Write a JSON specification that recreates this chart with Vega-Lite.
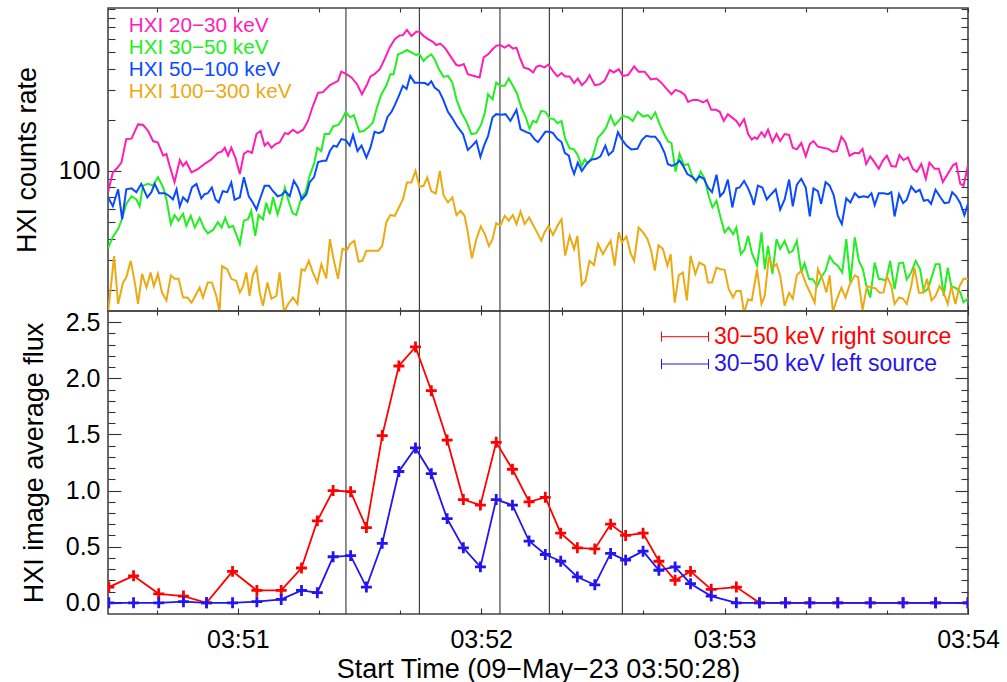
{
  "$schema": "https://vega.github.io/schema/vega-lite/v6.json",
  "padding": {"left": 12, "top": 6, "right": 4, "bottom": 2},
  "config": {
    "font": "Liberation Sans",
    "view": {"stroke": "#444", "strokeWidth": 1.6},
    "axis": {"grid": false, "domain": false, "tickColor": "#333", "tickWidth": 1.1, "labelFont": "Liberation Sans", "labelFontSize": 25, "labelColor": "#000", "labelFlush": false, "labelOverlap": false, "titleFont": "Liberation Sans", "titleFontSize": 27, "titleFontWeight": "normal", "titleColor": "#000"},
    "legend": {"labelFont": "Liberation Sans", "labelLimit": 400, "padding": 0}
  },
  "datasets": {
    "events": [{"seconds": 58.66}, {"seconds": 76.76}, {"seconds": 96.62}, {"seconds": 108.8}, {"seconds": 126.8}],
    "counts": [
      {"seconds":0,"band":"HXI 20−30 keV","rate":75},{"seconds":1.2,"band":"HXI 20−30 keV","rate":98},{"seconds":2.1,"band":"HXI 20−30 keV","rate":103},{"seconds":3.3,"band":"HXI 20−30 keV","rate":112},{"seconds":4.5,"band":"HXI 20−30 keV","rate":154},{"seconds":5.8,"band":"HXI 20−30 keV","rate":155},{"seconds":7.4,"band":"HXI 20−30 keV","rate":188},{"seconds":8.6,"band":"HXI 20−30 keV","rate":187},{"seconds":9.9,"band":"HXI 20−30 keV","rate":172},{"seconds":11.1,"band":"HXI 20−30 keV","rate":150},{"seconds":12.3,"band":"HXI 20−30 keV","rate":147},{"seconds":13.6,"band":"HXI 20−30 keV","rate":123},{"seconds":14.4,"band":"HXI 20−30 keV","rate":126},{"seconds":15.2,"band":"HXI 20−30 keV","rate":107},{"seconds":16.4,"band":"HXI 20−30 keV","rate":86},{"seconds":17.7,"band":"HXI 20−30 keV","rate":116},{"seconds":18.5,"band":"HXI 20−30 keV","rate":107},{"seconds":19.3,"band":"HXI 20−30 keV","rate":113},{"seconds":20.6,"band":"HXI 20−30 keV","rate":98},{"seconds":22.2,"band":"HXI 20−30 keV","rate":103},{"seconds":23.8,"band":"HXI 20−30 keV","rate":110},{"seconds":25.5,"band":"HXI 20−30 keV","rate":117},{"seconds":27.1,"band":"HXI 20−30 keV","rate":128},{"seconds":28,"band":"HXI 20−30 keV","rate":130},{"seconds":28.8,"band":"HXI 20−30 keV","rate":137},{"seconds":29.6,"band":"HXI 20−30 keV","rate":123},{"seconds":30.4,"band":"HXI 20−30 keV","rate":137},{"seconds":31.4,"band":"HXI 20−30 keV","rate":120},{"seconds":32.5,"band":"HXI 20−30 keV","rate":96},{"seconds":33.5,"band":"HXI 20−30 keV","rate":126},{"seconds":34.5,"band":"HXI 20−30 keV","rate":131},{"seconds":35.5,"band":"HXI 20−30 keV","rate":128},{"seconds":36.6,"band":"HXI 20−30 keV","rate":165},{"seconds":37.6,"band":"HXI 20−30 keV","rate":172},{"seconds":38.6,"band":"HXI 20−30 keV","rate":141},{"seconds":39.4,"band":"HXI 20−30 keV","rate":147},{"seconds":40.3,"band":"HXI 20−30 keV","rate":137},{"seconds":41.3,"band":"HXI 20−30 keV","rate":144},{"seconds":42.3,"band":"HXI 20−30 keV","rate":147},{"seconds":43.6,"band":"HXI 20−30 keV","rate":167},{"seconds":44.4,"band":"HXI 20−30 keV","rate":165},{"seconds":45.6,"band":"HXI 20−30 keV","rate":175},{"seconds":46.7,"band":"HXI 20−30 keV","rate":167},{"seconds":48.1,"band":"HXI 20−30 keV","rate":175},{"seconds":49.3,"band":"HXI 20−30 keV","rate":197},{"seconds":50.5,"band":"HXI 20−30 keV","rate":241},{"seconds":51.8,"band":"HXI 20−30 keV","rate":289},{"seconds":53,"band":"HXI 20−30 keV","rate":291},{"seconds":54.7,"band":"HXI 20−30 keV","rate":320},{"seconds":55.9,"band":"HXI 20−30 keV","rate":331},{"seconds":56.7,"band":"HXI 20−30 keV","rate":339},{"seconds":57.5,"band":"HXI 20−30 keV","rate":384},{"seconds":58.8,"band":"HXI 20−30 keV","rate":371},{"seconds":60,"band":"HXI 20−30 keV","rate":355},{"seconds":61.4,"band":"HXI 20−30 keV","rate":324},{"seconds":62.6,"band":"HXI 20−30 keV","rate":283},{"seconds":63.7,"band":"HXI 20−30 keV","rate":317},{"seconds":64.7,"band":"HXI 20−30 keV","rate":360},{"seconds":65.7,"band":"HXI 20−30 keV","rate":371},{"seconds":67,"band":"HXI 20−30 keV","rate":397},{"seconds":68.2,"band":"HXI 20−30 keV","rate":455},{"seconds":69.4,"band":"HXI 20−30 keV","rate":532},{"seconds":70.7,"band":"HXI 20−30 keV","rate":597},{"seconds":71.9,"band":"HXI 20−30 keV","rate":627},{"seconds":72.7,"band":"HXI 20−30 keV","rate":630},{"seconds":73.7,"band":"HXI 20−30 keV","rate":677},{"seconds":74.8,"band":"HXI 20−30 keV","rate":623},{"seconds":76,"band":"HXI 20−30 keV","rate":659},{"seconds":76.8,"band":"HXI 20−30 keV","rate":659},{"seconds":77.8,"band":"HXI 20−30 keV","rate":623},{"seconds":78.9,"band":"HXI 20−30 keV","rate":597},{"seconds":80.1,"band":"HXI 20−30 keV","rate":575},{"seconds":80.9,"band":"HXI 20−30 keV","rate":551},{"seconds":81.9,"band":"HXI 20−30 keV","rate":562},{"seconds":83.2,"band":"HXI 20−30 keV","rate":525},{"seconds":84.6,"band":"HXI 20−30 keV","rate":466},{"seconds":85.9,"band":"HXI 20−30 keV","rate":420},{"seconds":86.7,"band":"HXI 20−30 keV","rate":417},{"seconds":87.7,"band":"HXI 20−30 keV","rate":426},{"seconds":88.7,"band":"HXI 20−30 keV","rate":371},{"seconds":90,"band":"HXI 20−30 keV","rate":363},{"seconds":91.6,"band":"HXI 20−30 keV","rate":355},{"seconds":92.6,"band":"HXI 20−30 keV","rate":466},{"seconds":93.7,"band":"HXI 20−30 keV","rate":486},{"seconds":94.8,"band":"HXI 20−30 keV","rate":520},{"seconds":95.7,"band":"HXI 20−30 keV","rate":545},{"seconds":96.7,"band":"HXI 20−30 keV","rate":551},{"seconds":97.8,"band":"HXI 20−30 keV","rate":532},{"seconds":98.8,"band":"HXI 20−30 keV","rate":551},{"seconds":99.8,"band":"HXI 20−30 keV","rate":525},{"seconds":100.7,"band":"HXI 20−30 keV","rate":532},{"seconds":101.5,"band":"HXI 20−30 keV","rate":466},{"seconds":102.5,"band":"HXI 20−30 keV","rate":407},{"seconds":103.8,"band":"HXI 20−30 keV","rate":397},{"seconds":104.8,"band":"HXI 20−30 keV","rate":380},{"seconds":105.6,"band":"HXI 20−30 keV","rate":410},{"seconds":106.4,"band":"HXI 20−30 keV","rate":417},{"seconds":107.6,"band":"HXI 20−30 keV","rate":407},{"seconds":108.6,"band":"HXI 20−30 keV","rate":423},{"seconds":109.7,"band":"HXI 20−30 keV","rate":387},{"seconds":110.8,"band":"HXI 20−30 keV","rate":360},{"seconds":111.8,"band":"HXI 20−30 keV","rate":377},{"seconds":112.7,"band":"HXI 20−30 keV","rate":360},{"seconds":113.8,"band":"HXI 20−30 keV","rate":360},{"seconds":114.9,"band":"HXI 20−30 keV","rate":329},{"seconds":115.8,"band":"HXI 20−30 keV","rate":350},{"seconds":116.8,"band":"HXI 20−30 keV","rate":320},{"seconds":117.9,"band":"HXI 20−30 keV","rate":339},{"seconds":118.7,"band":"HXI 20−30 keV","rate":367},{"seconds":120,"band":"HXI 20−30 keV","rate":320},{"seconds":121.2,"band":"HXI 20−30 keV","rate":324},{"seconds":122.4,"band":"HXI 20−30 keV","rate":339},{"seconds":123.7,"band":"HXI 20−30 keV","rate":393},{"seconds":124.7,"band":"HXI 20−30 keV","rate":380},{"seconds":125.9,"band":"HXI 20−30 keV","rate":397},{"seconds":126.9,"band":"HXI 20−30 keV","rate":363},{"seconds":128.2,"band":"HXI 20−30 keV","rate":367},{"seconds":129.7,"band":"HXI 20−30 keV","rate":412},{"seconds":130.8,"band":"HXI 20−30 keV","rate":384},{"seconds":132.3,"band":"HXI 20−30 keV","rate":384},{"seconds":133.8,"band":"HXI 20−30 keV","rate":346},{"seconds":135.2,"band":"HXI 20−30 keV","rate":350},{"seconds":136.4,"band":"HXI 20−30 keV","rate":331},{"seconds":137.6,"band":"HXI 20−30 keV","rate":306},{"seconds":138.9,"band":"HXI 20−30 keV","rate":283},{"seconds":139.9,"band":"HXI 20−30 keV","rate":300},{"seconds":141.2,"band":"HXI 20−30 keV","rate":292},{"seconds":142.2,"band":"HXI 20−30 keV","rate":280},{"seconds":143,"band":"HXI 20−30 keV","rate":255},{"seconds":144.2,"band":"HXI 20−30 keV","rate":262},{"seconds":145.4,"band":"HXI 20−30 keV","rate":262},{"seconds":146.7,"band":"HXI 20−30 keV","rate":253},{"seconds":147.7,"band":"HXI 20−30 keV","rate":262},{"seconds":148.7,"band":"HXI 20−30 keV","rate":229},{"seconds":149.9,"band":"HXI 20−30 keV","rate":229},{"seconds":150.8,"band":"HXI 20−30 keV","rate":223},{"seconds":151.8,"band":"HXI 20−30 keV","rate":197},{"seconds":152.8,"band":"HXI 20−30 keV","rate":216},{"seconds":154.1,"band":"HXI 20−30 keV","rate":204},{"seconds":154.9,"band":"HXI 20−30 keV","rate":197},{"seconds":155.7,"band":"HXI 20−30 keV","rate":184},{"seconds":156.8,"band":"HXI 20−30 keV","rate":202},{"seconds":157.8,"band":"HXI 20−30 keV","rate":165},{"seconds":158.7,"band":"HXI 20−30 keV","rate":153},{"seconds":159.4,"band":"HXI 20−30 keV","rate":158},{"seconds":160,"band":"HXI 20−30 keV","rate":154},{"seconds":161.1,"band":"HXI 20−30 keV","rate":169},{"seconds":161.9,"band":"HXI 20−30 keV","rate":159},{"seconds":162.7,"band":"HXI 20−30 keV","rate":175},{"seconds":163.8,"band":"HXI 20−30 keV","rate":148},{"seconds":164.8,"band":"HXI 20−30 keV","rate":165},{"seconds":165.7,"band":"HXI 20−30 keV","rate":150},{"seconds":166.8,"band":"HXI 20−30 keV","rate":165},{"seconds":167.9,"band":"HXI 20−30 keV","rate":163},{"seconds":168.8,"band":"HXI 20−30 keV","rate":137},{"seconds":169.8,"band":"HXI 20−30 keV","rate":134},{"seconds":170.9,"band":"HXI 20−30 keV","rate":146},{"seconds":172,"band":"HXI 20−30 keV","rate":122},{"seconds":173,"band":"HXI 20−30 keV","rate":144},{"seconds":173.9,"band":"HXI 20−30 keV","rate":150},{"seconds":175,"band":"HXI 20−30 keV","rate":139},{"seconds":176.2,"band":"HXI 20−30 keV","rate":137},{"seconds":177.5,"band":"HXI 20−30 keV","rate":135},{"seconds":178.6,"band":"HXI 20−30 keV","rate":130},{"seconds":179.7,"band":"HXI 20−30 keV","rate":131},{"seconds":180.8,"band":"HXI 20−30 keV","rate":159},{"seconds":181.8,"band":"HXI 20−30 keV","rate":147},{"seconds":182.8,"band":"HXI 20−30 keV","rate":123},{"seconds":184.1,"band":"HXI 20−30 keV","rate":128},{"seconds":185.1,"band":"HXI 20−30 keV","rate":127},{"seconds":186,"band":"HXI 20−30 keV","rate":135},{"seconds":186.9,"band":"HXI 20−30 keV","rate":110},{"seconds":187.9,"band":"HXI 20−30 keV","rate":122},{"seconds":189,"band":"HXI 20−30 keV","rate":112},{"seconds":190,"band":"HXI 20−30 keV","rate":103},{"seconds":191,"band":"HXI 20−30 keV","rate":115},{"seconds":192,"band":"HXI 20−30 keV","rate":123},{"seconds":193.1,"band":"HXI 20−30 keV","rate":107},{"seconds":194.2,"band":"HXI 20−30 keV","rate":106},{"seconds":195.1,"band":"HXI 20−30 keV","rate":124},{"seconds":196.1,"band":"HXI 20−30 keV","rate":116},{"seconds":197.2,"band":"HXI 20−30 keV","rate":120},{"seconds":198.4,"band":"HXI 20−30 keV","rate":103},{"seconds":199.4,"band":"HXI 20−30 keV","rate":99},{"seconds":200.5,"band":"HXI 20−30 keV","rate":110},{"seconds":201.6,"band":"HXI 20−30 keV","rate":90},{"seconds":202.5,"band":"HXI 20−30 keV","rate":112},{"seconds":203.8,"band":"HXI 20−30 keV","rate":103},{"seconds":204.8,"band":"HXI 20−30 keV","rate":103},{"seconds":205.8,"band":"HXI 20−30 keV","rate":86},{"seconds":207,"band":"HXI 20−30 keV","rate":96},{"seconds":208.3,"band":"HXI 20−30 keV","rate":108},{"seconds":209.1,"band":"HXI 20−30 keV","rate":111},{"seconds":210.1,"band":"HXI 20−30 keV","rate":84},{"seconds":210.9,"band":"HXI 20−30 keV","rate":82},{"seconds":212,"band":"HXI 20−30 keV","rate":108},
      {"seconds":0,"band":"HXI 30−50 keV","rate":35},{"seconds":1.2,"band":"HXI 30−50 keV","rate":41},{"seconds":2.5,"band":"HXI 30−50 keV","rate":45.5},{"seconds":3.3,"band":"HXI 30−50 keV","rate":51},{"seconds":4.5,"band":"HXI 30−50 keV","rate":64},{"seconds":5.8,"band":"HXI 30−50 keV","rate":71},{"seconds":7,"band":"HXI 30−50 keV","rate":68},{"seconds":7.8,"band":"HXI 30−50 keV","rate":62},{"seconds":8.6,"band":"HXI 30−50 keV","rate":82},{"seconds":9.9,"band":"HXI 30−50 keV","rate":84},{"seconds":11.1,"band":"HXI 30−50 keV","rate":82},{"seconds":12.3,"band":"HXI 30−50 keV","rate":92},{"seconds":13.6,"band":"HXI 30−50 keV","rate":80},{"seconds":14.4,"band":"HXI 30−50 keV","rate":68},{"seconds":15.5,"band":"HXI 30−50 keV","rate":48.7},{"seconds":16.4,"band":"HXI 30−50 keV","rate":55},{"seconds":17.4,"band":"HXI 30−50 keV","rate":51},{"seconds":18.5,"band":"HXI 30−50 keV","rate":56},{"seconds":19.3,"band":"HXI 30−50 keV","rate":47.6},{"seconds":20.4,"band":"HXI 30−50 keV","rate":54.5},{"seconds":21.4,"band":"HXI 30−50 keV","rate":46.5},{"seconds":22.6,"band":"HXI 30−50 keV","rate":53},{"seconds":23.7,"band":"HXI 30−50 keV","rate":46},{"seconds":24.6,"band":"HXI 30−50 keV","rate":42.9},{"seconds":25.9,"band":"HXI 30−50 keV","rate":45},{"seconds":27.1,"band":"HXI 30−50 keV","rate":50},{"seconds":28,"band":"HXI 30−50 keV","rate":46.5},{"seconds":28.9,"band":"HXI 30−50 keV","rate":53},{"seconds":29.8,"band":"HXI 30−50 keV","rate":46.5},{"seconds":30.8,"band":"HXI 30−50 keV","rate":47.6},{"seconds":31.6,"band":"HXI 30−50 keV","rate":42.5},{"seconds":32.5,"band":"HXI 30−50 keV","rate":37.2},{"seconds":33.5,"band":"HXI 30−50 keV","rate":51},{"seconds":34.5,"band":"HXI 30−50 keV","rate":52},{"seconds":35.3,"band":"HXI 30−50 keV","rate":58.3},{"seconds":36.3,"band":"HXI 30−50 keV","rate":41.5},{"seconds":37.1,"band":"HXI 30−50 keV","rate":55},{"seconds":38.2,"band":"HXI 30−50 keV","rate":52},{"seconds":39,"band":"HXI 30−50 keV","rate":65},{"seconds":39.9,"band":"HXI 30−50 keV","rate":55.6},{"seconds":40.7,"band":"HXI 30−50 keV","rate":70},{"seconds":41.8,"band":"HXI 30−50 keV","rate":55.6},{"seconds":42.6,"band":"HXI 30−50 keV","rate":64},{"seconds":43.6,"band":"HXI 30−50 keV","rate":80},{"seconds":44.4,"band":"HXI 30−50 keV","rate":68},{"seconds":45.5,"band":"HXI 30−50 keV","rate":56.5},{"seconds":46.4,"band":"HXI 30−50 keV","rate":55},{"seconds":47.7,"band":"HXI 30−50 keV","rate":70},{"seconds":48.7,"band":"HXI 30−50 keV","rate":75},{"seconds":49.7,"band":"HXI 30−50 keV","rate":94},{"seconds":50.8,"band":"HXI 30−50 keV","rate":110},{"seconds":51.6,"band":"HXI 30−50 keV","rate":137},{"seconds":52.6,"band":"HXI 30−50 keV","rate":131},{"seconds":53.4,"band":"HXI 30−50 keV","rate":165},{"seconds":54.5,"band":"HXI 30−50 keV","rate":165},{"seconds":55.6,"band":"HXI 30−50 keV","rate":184},{"seconds":56.7,"band":"HXI 30−50 keV","rate":186},{"seconds":57.5,"band":"HXI 30−50 keV","rate":197},{"seconds":58.6,"band":"HXI 30−50 keV","rate":223},{"seconds":59.7,"band":"HXI 30−50 keV","rate":207},{"seconds":60.6,"band":"HXI 30−50 keV","rate":213},{"seconds":62,"band":"HXI 30−50 keV","rate":170},{"seconds":63,"band":"HXI 30−50 keV","rate":172},{"seconds":64.1,"band":"HXI 30−50 keV","rate":180},{"seconds":65.3,"band":"HXI 30−50 keV","rate":193},{"seconds":66.3,"band":"HXI 30−50 keV","rate":236},{"seconds":67.4,"band":"HXI 30−50 keV","rate":283},{"seconds":68.6,"band":"HXI 30−50 keV","rate":317},{"seconds":69.6,"band":"HXI 30−50 keV","rate":371},{"seconds":70.4,"band":"HXI 30−50 keV","rate":371},{"seconds":71.5,"band":"HXI 30−50 keV","rate":486},{"seconds":72.6,"band":"HXI 30−50 keV","rate":497},{"seconds":73.7,"band":"HXI 30−50 keV","rate":515},{"seconds":74.9,"band":"HXI 30−50 keV","rate":497},{"seconds":76,"band":"HXI 30−50 keV","rate":480},{"seconds":76.7,"band":"HXI 30−50 keV","rate":491},{"seconds":77.8,"band":"HXI 30−50 keV","rate":443},{"seconds":78.6,"band":"HXI 30−50 keV","rate":466},{"seconds":79.7,"band":"HXI 30−50 keV","rate":486},{"seconds":80.5,"band":"HXI 30−50 keV","rate":455},{"seconds":81.6,"band":"HXI 30−50 keV","rate":397},{"seconds":82.7,"band":"HXI 30−50 keV","rate":358},{"seconds":83.8,"band":"HXI 30−50 keV","rate":363},{"seconds":84.9,"band":"HXI 30−50 keV","rate":331},{"seconds":85.9,"band":"HXI 30−50 keV","rate":264},{"seconds":87.1,"band":"HXI 30−50 keV","rate":221},{"seconds":88.3,"band":"HXI 30−50 keV","rate":197},{"seconds":89.6,"band":"HXI 30−50 keV","rate":165},{"seconds":90.8,"band":"HXI 30−50 keV","rate":167},{"seconds":92,"band":"HXI 30−50 keV","rate":188},{"seconds":92.9,"band":"HXI 30−50 keV","rate":221},{"seconds":93.7,"band":"HXI 30−50 keV","rate":283},{"seconds":94.8,"band":"HXI 30−50 keV","rate":264},{"seconds":95.7,"band":"HXI 30−50 keV","rate":331},{"seconds":96.7,"band":"HXI 30−50 keV","rate":317},{"seconds":97.8,"band":"HXI 30−50 keV","rate":317},{"seconds":98.8,"band":"HXI 30−50 keV","rate":350},{"seconds":99.8,"band":"HXI 30−50 keV","rate":317},{"seconds":100.8,"band":"HXI 30−50 keV","rate":287},{"seconds":101.9,"band":"HXI 30−50 keV","rate":236},{"seconds":103,"band":"HXI 30−50 keV","rate":207},{"seconds":103.9,"band":"HXI 30−50 keV","rate":177},{"seconds":104.8,"band":"HXI 30−50 keV","rate":197},{"seconds":105.6,"band":"HXI 30−50 keV","rate":193},{"seconds":106.8,"band":"HXI 30−50 keV","rate":226},{"seconds":107.8,"band":"HXI 30−50 keV","rate":223},{"seconds":108.9,"band":"HXI 30−50 keV","rate":204},{"seconds":109.9,"band":"HXI 30−50 keV","rate":202},{"seconds":110.8,"band":"HXI 30−50 keV","rate":191},{"seconds":111.8,"band":"HXI 30−50 keV","rate":197},{"seconds":112.7,"band":"HXI 30−50 keV","rate":155},{"seconds":113.8,"band":"HXI 30−50 keV","rate":136},{"seconds":114.9,"band":"HXI 30−50 keV","rate":134},{"seconds":115.8,"band":"HXI 30−50 keV","rate":124},{"seconds":116.8,"band":"HXI 30−50 keV","rate":107},{"seconds":117.5,"band":"HXI 30−50 keV","rate":117},{"seconds":118.3,"band":"HXI 30−50 keV","rate":111},{"seconds":119.5,"band":"HXI 30−50 keV","rate":122},{"seconds":120.8,"band":"HXI 30−50 keV","rate":157},{"seconds":122,"band":"HXI 30−50 keV","rate":169},{"seconds":122.8,"band":"HXI 30−50 keV","rate":180},{"seconds":123.9,"band":"HXI 30−50 keV","rate":211},{"seconds":124.9,"band":"HXI 30−50 keV","rate":186},{"seconds":125.9,"band":"HXI 30−50 keV","rate":197},{"seconds":126.9,"band":"HXI 30−50 keV","rate":211},{"seconds":128.2,"band":"HXI 30−50 keV","rate":207},{"seconds":129.4,"band":"HXI 30−50 keV","rate":197},{"seconds":130.6,"band":"HXI 30−50 keV","rate":223},{"seconds":131.9,"band":"HXI 30−50 keV","rate":209},{"seconds":133.1,"band":"HXI 30−50 keV","rate":213},{"seconds":133.9,"band":"HXI 30−50 keV","rate":202},{"seconds":134.9,"band":"HXI 30−50 keV","rate":221},{"seconds":136,"band":"HXI 30−50 keV","rate":188},{"seconds":137.1,"band":"HXI 30−50 keV","rate":165},{"seconds":138,"band":"HXI 30−50 keV","rate":150},{"seconds":138.9,"band":"HXI 30−50 keV","rate":146},{"seconds":139.9,"band":"HXI 30−50 keV","rate":99},{"seconds":140.9,"band":"HXI 30−50 keV","rate":126},{"seconds":142,"band":"HXI 30−50 keV","rate":108},{"seconds":143,"band":"HXI 30−50 keV","rate":110},{"seconds":144,"band":"HXI 30−50 keV","rate":94},{"seconds":145,"band":"HXI 30−50 keV","rate":86},{"seconds":146.1,"band":"HXI 30−50 keV","rate":99},{"seconds":147.1,"band":"HXI 30−50 keV","rate":90},{"seconds":148.1,"band":"HXI 30−50 keV","rate":71},{"seconds":149,"band":"HXI 30−50 keV","rate":61},{"seconds":150,"band":"HXI 30−50 keV","rate":66.8},{"seconds":151,"band":"HXI 30−50 keV","rate":53.3},{"seconds":152,"band":"HXI 30−50 keV","rate":43.5},{"seconds":153,"band":"HXI 30−50 keV","rate":46.5},{"seconds":154.1,"band":"HXI 30−50 keV","rate":42.5},{"seconds":154.9,"band":"HXI 30−50 keV","rate":46.5},{"seconds":156,"band":"HXI 30−50 keV","rate":32.4},{"seconds":156.9,"band":"HXI 30−50 keV","rate":34.4},{"seconds":157.8,"band":"HXI 30−50 keV","rate":41.5},{"seconds":158.7,"band":"HXI 30−50 keV","rate":33},{"seconds":160,"band":"HXI 30−50 keV","rate":27.7},{"seconds":161.1,"band":"HXI 30−50 keV","rate":43.5},{"seconds":161.9,"band":"HXI 30−50 keV","rate":26.4},{"seconds":162.7,"band":"HXI 30−50 keV","rate":36.2},{"seconds":163.8,"band":"HXI 30−50 keV","rate":24.8},{"seconds":164.8,"band":"HXI 30−50 keV","rate":39.7},{"seconds":165.7,"band":"HXI 30−50 keV","rate":34.7},{"seconds":166.8,"band":"HXI 30−50 keV","rate":38.8},{"seconds":167.9,"band":"HXI 30−50 keV","rate":33},{"seconds":168.8,"band":"HXI 30−50 keV","rate":33.9},{"seconds":169.8,"band":"HXI 30−50 keV","rate":38.8},{"seconds":170.9,"band":"HXI 30−50 keV","rate":25.3},{"seconds":171.7,"band":"HXI 30−50 keV","rate":28.6},{"seconds":172.8,"band":"HXI 30−50 keV","rate":23.2},{"seconds":173.8,"band":"HXI 30−50 keV","rate":23},{"seconds":174.8,"band":"HXI 30−50 keV","rate":21},{"seconds":175.8,"band":"HXI 30−50 keV","rate":23.7},{"seconds":176.9,"band":"HXI 30−50 keV","rate":25.9},{"seconds":177.9,"band":"HXI 30−50 keV","rate":31.4},{"seconds":178.9,"band":"HXI 30−50 keV","rate":28.9},{"seconds":179.9,"band":"HXI 30−50 keV","rate":27.7},{"seconds":181,"band":"HXI 30−50 keV","rate":25.3},{"seconds":182,"band":"HXI 30−50 keV","rate":39.7},{"seconds":183,"band":"HXI 30−50 keV","rate":22.1},{"seconds":184.1,"band":"HXI 30−50 keV","rate":40.7},{"seconds":185.1,"band":"HXI 30−50 keV","rate":29.6},{"seconds":186.1,"band":"HXI 30−50 keV","rate":26.4},{"seconds":186.9,"band":"HXI 30−50 keV","rate":21.3},{"seconds":187.9,"band":"HXI 30−50 keV","rate":18},{"seconds":189,"band":"HXI 30−50 keV","rate":28.9},{"seconds":190,"band":"HXI 30−50 keV","rate":23.2},{"seconds":191,"band":"HXI 30−50 keV","rate":23},{"seconds":191.8,"band":"HXI 30−50 keV","rate":22.6},{"seconds":192.8,"band":"HXI 30−50 keV","rate":29.6},{"seconds":193.9,"band":"HXI 30−50 keV","rate":20.2},{"seconds":195,"band":"HXI 30−50 keV","rate":28.6},{"seconds":196,"band":"HXI 30−50 keV","rate":28.9},{"seconds":196.9,"band":"HXI 30−50 keV","rate":23},{"seconds":198,"band":"HXI 30−50 keV","rate":25.3},{"seconds":199.1,"band":"HXI 30−50 keV","rate":29.6},{"seconds":200.2,"band":"HXI 30−50 keV","rate":26.4},{"seconds":201.1,"band":"HXI 30−50 keV","rate":19.4},{"seconds":202.1,"band":"HXI 30−50 keV","rate":20.2},{"seconds":203.2,"band":"HXI 30−50 keV","rate":24.4},{"seconds":204,"band":"HXI 30−50 keV","rate":28.3},{"seconds":205,"band":"HXI 30−50 keV","rate":28.3},{"seconds":206,"band":"HXI 30−50 keV","rate":18.4},{"seconds":207,"band":"HXI 30−50 keV","rate":27},{"seconds":207.9,"band":"HXI 30−50 keV","rate":21},{"seconds":209.1,"band":"HXI 30−50 keV","rate":20.4},{"seconds":210.1,"band":"HXI 30−50 keV","rate":19.3},{"seconds":210.9,"band":"HXI 30−50 keV","rate":16.9},{"seconds":212,"band":"HXI 30−50 keV","rate":17.8},
      {"seconds":0,"band":"HXI 50−100 keV","rate":70},{"seconds":1.2,"band":"HXI 50−100 keV","rate":62},{"seconds":2.5,"band":"HXI 50−100 keV","rate":78},{"seconds":3.5,"band":"HXI 50−100 keV","rate":52},{"seconds":4.5,"band":"HXI 50−100 keV","rate":78},{"seconds":5.8,"band":"HXI 50−100 keV","rate":79},{"seconds":7,"band":"HXI 50−100 keV","rate":75},{"seconds":8.2,"band":"HXI 50−100 keV","rate":84},{"seconds":9.7,"band":"HXI 50−100 keV","rate":70},{"seconds":10.7,"band":"HXI 50−100 keV","rate":75},{"seconds":11.5,"band":"HXI 50−100 keV","rate":84},{"seconds":12.6,"band":"HXI 50−100 keV","rate":74},{"seconds":14,"band":"HXI 50−100 keV","rate":74},{"seconds":15.2,"band":"HXI 50−100 keV","rate":71},{"seconds":16,"band":"HXI 50−100 keV","rate":68},{"seconds":16.9,"band":"HXI 50−100 keV","rate":78},{"seconds":17.7,"band":"HXI 50−100 keV","rate":61.8},{"seconds":18.5,"band":"HXI 50−100 keV","rate":70},{"seconds":19.6,"band":"HXI 50−100 keV","rate":65.9},{"seconds":20.7,"band":"HXI 50−100 keV","rate":80},{"seconds":21.8,"band":"HXI 50−100 keV","rate":84},{"seconds":23,"band":"HXI 50−100 keV","rate":69},{"seconds":23.8,"band":"HXI 50−100 keV","rate":73},{"seconds":24.6,"band":"HXI 50−100 keV","rate":74},{"seconds":25.6,"band":"HXI 50−100 keV","rate":80},{"seconds":26.5,"band":"HXI 50−100 keV","rate":68},{"seconds":27.3,"band":"HXI 50−100 keV","rate":65.3},{"seconds":28.3,"band":"HXI 50−100 keV","rate":76},{"seconds":29.4,"band":"HXI 50−100 keV","rate":75},{"seconds":30.4,"band":"HXI 50−100 keV","rate":85.6},{"seconds":31.2,"band":"HXI 50−100 keV","rate":67.7},{"seconds":32.5,"band":"HXI 50−100 keV","rate":70},{"seconds":33.5,"band":"HXI 50−100 keV","rate":92},{"seconds":34.7,"band":"HXI 50−100 keV","rate":71},{"seconds":35.7,"band":"HXI 50−100 keV","rate":65.3},{"seconds":36.6,"band":"HXI 50−100 keV","rate":59.3},{"seconds":37.6,"band":"HXI 50−100 keV","rate":70},{"seconds":38.6,"band":"HXI 50−100 keV","rate":81.8},{"seconds":39.7,"band":"HXI 50−100 keV","rate":81.8},{"seconds":40.7,"band":"HXI 50−100 keV","rate":76},{"seconds":41.8,"band":"HXI 50−100 keV","rate":71},{"seconds":42.7,"band":"HXI 50−100 keV","rate":72},{"seconds":43.7,"band":"HXI 50−100 keV","rate":76},{"seconds":44.8,"band":"HXI 50−100 keV","rate":71},{"seconds":45.8,"band":"HXI 50−100 keV","rate":87.5},{"seconds":46.8,"band":"HXI 50−100 keV","rate":80},{"seconds":47.8,"band":"HXI 50−100 keV","rate":68},{"seconds":48.9,"band":"HXI 50−100 keV","rate":73},{"seconds":49.7,"band":"HXI 50−100 keV","rate":85.6},{"seconds":50.8,"band":"HXI 50−100 keV","rate":92},{"seconds":51.8,"band":"HXI 50−100 keV","rate":113},{"seconds":53,"band":"HXI 50−100 keV","rate":115},{"seconds":53.8,"band":"HXI 50−100 keV","rate":115},{"seconds":54.7,"band":"HXI 50−100 keV","rate":131},{"seconds":55.6,"band":"HXI 50−100 keV","rate":141},{"seconds":56.4,"band":"HXI 50−100 keV","rate":139},{"seconds":57.5,"band":"HXI 50−100 keV","rate":154},{"seconds":58.6,"band":"HXI 50−100 keV","rate":152},{"seconds":59.6,"band":"HXI 50−100 keV","rate":141},{"seconds":60.4,"band":"HXI 50−100 keV","rate":163},{"seconds":61.5,"band":"HXI 50−100 keV","rate":131},{"seconds":62.5,"band":"HXI 50−100 keV","rate":141},{"seconds":63.7,"band":"HXI 50−100 keV","rate":120},{"seconds":64.7,"band":"HXI 50−100 keV","rate":137},{"seconds":65.7,"band":"HXI 50−100 keV","rate":170},{"seconds":66.8,"band":"HXI 50−100 keV","rate":167},{"seconds":67.8,"band":"HXI 50−100 keV","rate":172},{"seconds":68.9,"band":"HXI 50−100 keV","rate":208},{"seconds":69.9,"band":"HXI 50−100 keV","rate":223},{"seconds":70.7,"band":"HXI 50−100 keV","rate":244},{"seconds":71.7,"band":"HXI 50−100 keV","rate":277},{"seconds":72.7,"band":"HXI 50−100 keV","rate":317},{"seconds":73.6,"band":"HXI 50−100 keV","rate":304},{"seconds":74.5,"band":"HXI 50−100 keV","rate":363},{"seconds":75.6,"band":"HXI 50−100 keV","rate":331},{"seconds":76.8,"band":"HXI 50−100 keV","rate":331},{"seconds":78.1,"band":"HXI 50−100 keV","rate":329},{"seconds":78.9,"band":"HXI 50−100 keV","rate":321},{"seconds":79.7,"band":"HXI 50−100 keV","rate":337},{"seconds":80.5,"band":"HXI 50−100 keV","rate":310},{"seconds":81.6,"band":"HXI 50−100 keV","rate":296},{"seconds":82.6,"band":"HXI 50−100 keV","rate":264},{"seconds":83.8,"band":"HXI 50−100 keV","rate":223},{"seconds":84.9,"band":"HXI 50−100 keV","rate":204},{"seconds":86,"band":"HXI 50−100 keV","rate":184},{"seconds":87.5,"band":"HXI 50−100 keV","rate":165},{"seconds":88.7,"band":"HXI 50−100 keV","rate":133},{"seconds":89.8,"band":"HXI 50−100 keV","rate":141},{"seconds":90.8,"band":"HXI 50−100 keV","rate":150},{"seconds":91.8,"band":"HXI 50−100 keV","rate":121},{"seconds":92.7,"band":"HXI 50−100 keV","rate":141},{"seconds":93.7,"band":"HXI 50−100 keV","rate":161},{"seconds":94.8,"band":"HXI 50−100 keV","rate":207},{"seconds":95.7,"band":"HXI 50−100 keV","rate":216},{"seconds":97,"band":"HXI 50−100 keV","rate":214},{"seconds":98,"band":"HXI 50−100 keV","rate":216},{"seconds":99.2,"band":"HXI 50−100 keV","rate":197},{"seconds":100.7,"band":"HXI 50−100 keV","rate":229},{"seconds":101.7,"band":"HXI 50−100 keV","rate":176},{"seconds":103,"band":"HXI 50−100 keV","rate":170},{"seconds":104.1,"band":"HXI 50−100 keV","rate":166},{"seconds":105.2,"band":"HXI 50−100 keV","rate":153},{"seconds":106,"band":"HXI 50−100 keV","rate":148},{"seconds":106.8,"band":"HXI 50−100 keV","rate":157},{"seconds":107.8,"band":"HXI 50−100 keV","rate":170},{"seconds":108.9,"band":"HXI 50−100 keV","rate":170},{"seconds":109.7,"band":"HXI 50−100 keV","rate":167},{"seconds":110.8,"band":"HXI 50−100 keV","rate":154},{"seconds":111.8,"band":"HXI 50−100 keV","rate":148},{"seconds":112.6,"band":"HXI 50−100 keV","rate":128},{"seconds":113.6,"band":"HXI 50−100 keV","rate":123},{"seconds":114.2,"band":"HXI 50−100 keV","rate":107},{"seconds":114.9,"band":"HXI 50−100 keV","rate":96},{"seconds":115.8,"band":"HXI 50−100 keV","rate":112},{"seconds":116.8,"band":"HXI 50−100 keV","rate":100},{"seconds":118.2,"band":"HXI 50−100 keV","rate":112},{"seconds":119.3,"band":"HXI 50−100 keV","rate":117},{"seconds":120.4,"band":"HXI 50−100 keV","rate":118},{"seconds":121.4,"band":"HXI 50−100 keV","rate":122},{"seconds":122.6,"band":"HXI 50−100 keV","rate":141},{"seconds":123.4,"band":"HXI 50−100 keV","rate":124},{"seconds":124.5,"band":"HXI 50−100 keV","rate":131},{"seconds":125.7,"band":"HXI 50−100 keV","rate":169},{"seconds":126.7,"band":"HXI 50−100 keV","rate":153},{"seconds":127.8,"band":"HXI 50−100 keV","rate":141},{"seconds":129,"band":"HXI 50−100 keV","rate":134},{"seconds":130.5,"band":"HXI 50−100 keV","rate":135},{"seconds":131.6,"band":"HXI 50−100 keV","rate":152},{"seconds":132.7,"band":"HXI 50−100 keV","rate":161},{"seconds":133.8,"band":"HXI 50−100 keV","rate":159},{"seconds":134.9,"band":"HXI 50−100 keV","rate":159},{"seconds":136,"band":"HXI 50−100 keV","rate":147},{"seconds":137.2,"band":"HXI 50−100 keV","rate":128},{"seconds":138,"band":"HXI 50−100 keV","rate":110},{"seconds":139,"band":"HXI 50−100 keV","rate":107},{"seconds":140.1,"band":"HXI 50−100 keV","rate":110},{"seconds":140.9,"band":"HXI 50−100 keV","rate":115},{"seconds":141.7,"band":"HXI 50−100 keV","rate":108},{"seconds":142.8,"band":"HXI 50−100 keV","rate":96},{"seconds":143.8,"band":"HXI 50−100 keV","rate":93},{"seconds":144.9,"band":"HXI 50−100 keV","rate":88},{"seconds":145.8,"band":"HXI 50−100 keV","rate":93},{"seconds":146.9,"band":"HXI 50−100 keV","rate":90},{"seconds":147.9,"band":"HXI 50−100 keV","rate":80},{"seconds":148.9,"band":"HXI 50−100 keV","rate":75},{"seconds":150,"band":"HXI 50−100 keV","rate":95},{"seconds":150.9,"band":"HXI 50−100 keV","rate":71},{"seconds":151.8,"band":"HXI 50−100 keV","rate":75},{"seconds":152.8,"band":"HXI 50−100 keV","rate":89},{"seconds":153.9,"band":"HXI 50−100 keV","rate":61},{"seconds":154.9,"band":"HXI 50−100 keV","rate":79},{"seconds":155.7,"band":"HXI 50−100 keV","rate":80},{"seconds":156.8,"band":"HXI 50−100 keV","rate":87.5},{"seconds":157.8,"band":"HXI 50−100 keV","rate":79},{"seconds":158.7,"band":"HXI 50−100 keV","rate":70},{"seconds":159.2,"band":"HXI 50−100 keV","rate":63},{"seconds":160.2,"band":"HXI 50−100 keV","rate":82},{"seconds":161.3,"band":"HXI 50−100 keV","rate":80},{"seconds":162.4,"band":"HXI 50−100 keV","rate":68},{"seconds":163.5,"band":"HXI 50−100 keV","rate":73},{"seconds":164.6,"band":"HXI 50−100 keV","rate":78},{"seconds":165.7,"band":"HXI 50−100 keV","rate":59.3},{"seconds":166.8,"band":"HXI 50−100 keV","rate":68},{"seconds":167.9,"band":"HXI 50−100 keV","rate":89},{"seconds":168.8,"band":"HXI 50−100 keV","rate":62},{"seconds":169.8,"band":"HXI 50−100 keV","rate":83},{"seconds":170.9,"band":"HXI 50−100 keV","rate":90},{"seconds":172,"band":"HXI 50−100 keV","rate":80},{"seconds":173,"band":"HXI 50−100 keV","rate":54},{"seconds":173.9,"band":"HXI 50−100 keV","rate":79},{"seconds":175,"band":"HXI 50−100 keV","rate":76},{"seconds":175.8,"band":"HXI 50−100 keV","rate":64},{"seconds":176.9,"band":"HXI 50−100 keV","rate":86},{"seconds":177.9,"band":"HXI 50−100 keV","rate":82},{"seconds":178.9,"band":"HXI 50−100 keV","rate":72},{"seconds":179.9,"band":"HXI 50−100 keV","rate":54.5},{"seconds":180.9,"band":"HXI 50−100 keV","rate":48.7},{"seconds":182,"band":"HXI 50−100 keV","rate":69},{"seconds":183,"band":"HXI 50−100 keV","rate":65.3},{"seconds":184.1,"band":"HXI 50−100 keV","rate":74},{"seconds":185.1,"band":"HXI 50−100 keV","rate":70},{"seconds":186.3,"band":"HXI 50−100 keV","rate":71},{"seconds":187.3,"band":"HXI 50−100 keV","rate":70},{"seconds":188.2,"band":"HXI 50−100 keV","rate":74},{"seconds":189,"band":"HXI 50−100 keV","rate":63},{"seconds":190,"band":"HXI 50−100 keV","rate":74},{"seconds":191.2,"band":"HXI 50−100 keV","rate":74},{"seconds":192.3,"band":"HXI 50−100 keV","rate":73},{"seconds":193.1,"band":"HXI 50−100 keV","rate":75},{"seconds":193.9,"band":"HXI 50−100 keV","rate":54},{"seconds":195,"band":"HXI 50−100 keV","rate":73},{"seconds":196,"band":"HXI 50−100 keV","rate":64.7},{"seconds":196.9,"band":"HXI 50−100 keV","rate":67.7},{"seconds":198,"band":"HXI 50−100 keV","rate":81},{"seconds":199.1,"band":"HXI 50−100 keV","rate":75},{"seconds":200.1,"band":"HXI 50−100 keV","rate":77.5},{"seconds":201.1,"band":"HXI 50−100 keV","rate":66.8},{"seconds":202.1,"band":"HXI 50−100 keV","rate":67.7},{"seconds":202.9,"band":"HXI 50−100 keV","rate":64},{"seconds":204,"band":"HXI 50−100 keV","rate":77.5},{"seconds":205.2,"band":"HXI 50−100 keV","rate":70},{"seconds":206.2,"band":"HXI 50−100 keV","rate":64.7},{"seconds":207.3,"band":"HXI 50−100 keV","rate":65.3},{"seconds":208.1,"band":"HXI 50−100 keV","rate":75},{"seconds":209.1,"band":"HXI 50−100 keV","rate":71},{"seconds":210.1,"band":"HXI 50−100 keV","rate":64.7},{"seconds":211.1,"band":"HXI 50−100 keV","rate":55},{"seconds":212,"band":"HXI 50−100 keV","rate":64},
      {"seconds":0,"band":"HXI 100−300 keV","rate":14.5},{"seconds":1.5,"band":"HXI 100−300 keV","rate":31.6},{"seconds":2.5,"band":"HXI 100−300 keV","rate":16.5},{"seconds":3.7,"band":"HXI 100−300 keV","rate":22.1},{"seconds":4.5,"band":"HXI 100−300 keV","rate":23.6},{"seconds":5.6,"band":"HXI 100−300 keV","rate":29.6},{"seconds":6.6,"band":"HXI 100−300 keV","rate":22.1},{"seconds":7.4,"band":"HXI 100−300 keV","rate":16.5},{"seconds":8.4,"band":"HXI 100−300 keV","rate":24.8},{"seconds":9.5,"band":"HXI 100−300 keV","rate":20.6},{"seconds":10.5,"band":"HXI 100−300 keV","rate":25.3},{"seconds":11.3,"band":"HXI 100−300 keV","rate":21},{"seconds":12.3,"band":"HXI 100−300 keV","rate":24.8},{"seconds":13.3,"band":"HXI 100−300 keV","rate":19.3},{"seconds":14.4,"band":"HXI 100−300 keV","rate":17.3},{"seconds":15.5,"band":"HXI 100−300 keV","rate":24.3},{"seconds":16.4,"band":"HXI 100−300 keV","rate":23.2},{"seconds":17.4,"band":"HXI 100−300 keV","rate":23.2},{"seconds":18.5,"band":"HXI 100−300 keV","rate":18},{"seconds":19.6,"band":"HXI 100−300 keV","rate":18},{"seconds":20.6,"band":"HXI 100−300 keV","rate":16.8},{"seconds":21.5,"band":"HXI 100−300 keV","rate":18.4},{"seconds":22.6,"band":"HXI 100−300 keV","rate":20.6},{"seconds":23.4,"band":"HXI 100−300 keV","rate":18},{"seconds":24.6,"band":"HXI 100−300 keV","rate":22.1},{"seconds":25.6,"band":"HXI 100−300 keV","rate":22.1},{"seconds":26.7,"band":"HXI 100−300 keV","rate":18.4},{"seconds":27.5,"band":"HXI 100−300 keV","rate":14.8},{"seconds":28.1,"band":"HXI 100−300 keV","rate":27.5},{"seconds":29.4,"band":"HXI 100−300 keV","rate":26.4},{"seconds":30.4,"band":"HXI 100−300 keV","rate":23.2},{"seconds":31.6,"band":"HXI 100−300 keV","rate":22.6},{"seconds":32.5,"band":"HXI 100−300 keV","rate":19.3},{"seconds":33.3,"band":"HXI 100−300 keV","rate":21},{"seconds":34.1,"band":"HXI 100−300 keV","rate":25.3},{"seconds":34.9,"band":"HXI 100−300 keV","rate":18.4},{"seconds":35.7,"band":"HXI 100−300 keV","rate":24.3},{"seconds":36.6,"band":"HXI 100−300 keV","rate":27},{"seconds":37.4,"band":"HXI 100−300 keV","rate":19.3},{"seconds":38.2,"band":"HXI 100−300 keV","rate":16.1},{"seconds":39.3,"band":"HXI 100−300 keV","rate":22.1},{"seconds":40.3,"band":"HXI 100−300 keV","rate":17.7},{"seconds":41.5,"band":"HXI 100−300 keV","rate":18.4},{"seconds":42.3,"band":"HXI 100−300 keV","rate":25.3},{"seconds":43.4,"band":"HXI 100−300 keV","rate":14.8},{"seconds":44.4,"band":"HXI 100−300 keV","rate":16.5},{"seconds":45.6,"band":"HXI 100−300 keV","rate":18},{"seconds":46.7,"band":"HXI 100−300 keV","rate":16.5},{"seconds":47.7,"band":"HXI 100−300 keV","rate":26.4},{"seconds":48.5,"band":"HXI 100−300 keV","rate":25.9},{"seconds":49.5,"band":"HXI 100−300 keV","rate":29.6},{"seconds":50.5,"band":"HXI 100−300 keV","rate":25.3},{"seconds":51.6,"band":"HXI 100−300 keV","rate":22.1},{"seconds":52.6,"band":"HXI 100−300 keV","rate":28.3},{"seconds":53.8,"band":"HXI 100−300 keV","rate":23.3},{"seconds":54.7,"band":"HXI 100−300 keV","rate":39.7},{"seconds":55.6,"band":"HXI 100−300 keV","rate":30.3},{"seconds":56.7,"band":"HXI 100−300 keV","rate":23.2},{"seconds":57.8,"band":"HXI 100−300 keV","rate":34.9},{"seconds":58.8,"band":"HXI 100−300 keV","rate":33.9},{"seconds":59.7,"band":"HXI 100−300 keV","rate":37.2},{"seconds":60.7,"band":"HXI 100−300 keV","rate":38.8},{"seconds":61.8,"band":"HXI 100−300 keV","rate":29.2},{"seconds":62.7,"band":"HXI 100−300 keV","rate":29.6},{"seconds":63.7,"band":"HXI 100−300 keV","rate":33.9},{"seconds":65.3,"band":"HXI 100−300 keV","rate":33.9},{"seconds":66.6,"band":"HXI 100−300 keV","rate":33.9},{"seconds":67.6,"band":"HXI 100−300 keV","rate":36.2},{"seconds":68.6,"band":"HXI 100−300 keV","rate":49.8},{"seconds":69.6,"band":"HXI 100−300 keV","rate":55},{"seconds":70.7,"band":"HXI 100−300 keV","rate":54.5},{"seconds":71.7,"band":"HXI 100−300 keV","rate":61},{"seconds":72.7,"band":"HXI 100−300 keV","rate":68},{"seconds":73.7,"band":"HXI 100−300 keV","rate":85.6},{"seconds":74.8,"band":"HXI 100−300 keV","rate":85.6},{"seconds":75.8,"band":"HXI 100−300 keV","rate":100},{"seconds":76.8,"band":"HXI 100−300 keV","rate":80.7},{"seconds":77.8,"band":"HXI 100−300 keV","rate":81.8},{"seconds":78.7,"band":"HXI 100−300 keV","rate":91.6},{"seconds":79.7,"band":"HXI 100−300 keV","rate":76},{"seconds":80.8,"band":"HXI 100−300 keV","rate":73.7},{"seconds":81.8,"band":"HXI 100−300 keV","rate":100},{"seconds":82.7,"band":"HXI 100−300 keV","rate":72},{"seconds":83.8,"band":"HXI 100−300 keV","rate":65.3},{"seconds":84.9,"band":"HXI 100−300 keV","rate":70},{"seconds":85.9,"band":"HXI 100−300 keV","rate":55},{"seconds":86.9,"band":"HXI 100−300 keV","rate":58.3},{"seconds":87.9,"band":"HXI 100−300 keV","rate":54.5},{"seconds":88.7,"band":"HXI 100−300 keV","rate":43.5},{"seconds":89.7,"band":"HXI 100−300 keV","rate":30.6},{"seconds":90.8,"band":"HXI 100−300 keV","rate":39.7},{"seconds":91.9,"band":"HXI 100−300 keV","rate":47.2},{"seconds":92.9,"band":"HXI 100−300 keV","rate":42.5},{"seconds":93.9,"band":"HXI 100−300 keV","rate":36.2},{"seconds":94.8,"band":"HXI 100−300 keV","rate":39.7},{"seconds":95.7,"band":"HXI 100−300 keV","rate":49.4},{"seconds":96.7,"band":"HXI 100−300 keV","rate":47.6},{"seconds":97.8,"band":"HXI 100−300 keV","rate":54.5},{"seconds":98.8,"band":"HXI 100−300 keV","rate":51},{"seconds":99.8,"band":"HXI 100−300 keV","rate":55},{"seconds":100.7,"band":"HXI 100−300 keV","rate":48.7},{"seconds":101.7,"band":"HXI 100−300 keV","rate":57.8},{"seconds":102.7,"band":"HXI 100−300 keV","rate":48.7},{"seconds":103.8,"band":"HXI 100−300 keV","rate":53.3},{"seconds":104.9,"band":"HXI 100−300 keV","rate":47.6},{"seconds":106,"band":"HXI 100−300 keV","rate":42.5},{"seconds":106.8,"band":"HXI 100−300 keV","rate":38.8},{"seconds":107.6,"band":"HXI 100−300 keV","rate":43.5},{"seconds":108.6,"band":"HXI 100−300 keV","rate":47.6},{"seconds":109.7,"band":"HXI 100−300 keV","rate":42},{"seconds":110.8,"band":"HXI 100−300 keV","rate":47.6},{"seconds":111.8,"band":"HXI 100−300 keV","rate":52},{"seconds":112.7,"band":"HXI 100−300 keV","rate":31.7},{"seconds":113.8,"band":"HXI 100−300 keV","rate":41.5},{"seconds":114.9,"band":"HXI 100−300 keV","rate":34.7},{"seconds":115.7,"band":"HXI 100−300 keV","rate":41.5},{"seconds":116.8,"band":"HXI 100−300 keV","rate":21.3},{"seconds":117.7,"band":"HXI 100−300 keV","rate":22.6},{"seconds":118.7,"band":"HXI 100−300 keV","rate":29.6},{"seconds":119.8,"band":"HXI 100−300 keV","rate":28},{"seconds":120.8,"band":"HXI 100−300 keV","rate":37.2},{"seconds":122,"band":"HXI 100−300 keV","rate":32.4},{"seconds":122.9,"band":"HXI 100−300 keV","rate":35.5},{"seconds":123.9,"band":"HXI 100−300 keV","rate":38.8},{"seconds":124.9,"band":"HXI 100−300 keV","rate":27.7},{"seconds":125.9,"band":"HXI 100−300 keV","rate":43.5},{"seconds":126.7,"band":"HXI 100−300 keV","rate":38},{"seconds":127.8,"band":"HXI 100−300 keV","rate":41.2},{"seconds":128.8,"band":"HXI 100−300 keV","rate":33},{"seconds":129.7,"band":"HXI 100−300 keV","rate":29.6},{"seconds":130.8,"band":"HXI 100−300 keV","rate":46.5},{"seconds":131.9,"band":"HXI 100−300 keV","rate":43.5},{"seconds":133,"band":"HXI 100−300 keV","rate":39.7},{"seconds":133.9,"band":"HXI 100−300 keV","rate":33.9},{"seconds":134.8,"band":"HXI 100−300 keV","rate":25.9},{"seconds":135.7,"band":"HXI 100−300 keV","rate":36.6},{"seconds":136.8,"band":"HXI 100−300 keV","rate":34.7},{"seconds":137.9,"band":"HXI 100−300 keV","rate":27.7},{"seconds":138.7,"band":"HXI 100−300 keV","rate":32.4},{"seconds":139.7,"band":"HXI 100−300 keV","rate":16.8},{"seconds":140.7,"band":"HXI 100−300 keV","rate":24.3},{"seconds":141.7,"band":"HXI 100−300 keV","rate":25.3},{"seconds":142.7,"band":"HXI 100−300 keV","rate":17.3},{"seconds":143.6,"band":"HXI 100−300 keV","rate":31.7},{"seconds":144.8,"band":"HXI 100−300 keV","rate":24.8},{"seconds":145.8,"band":"HXI 100−300 keV","rate":28.9},{"seconds":147.1,"band":"HXI 100−300 keV","rate":27.7},{"seconds":147.9,"band":"HXI 100−300 keV","rate":22.1},{"seconds":148.9,"band":"HXI 100−300 keV","rate":22.1},{"seconds":150,"band":"HXI 100−300 keV","rate":27},{"seconds":151,"band":"HXI 100−300 keV","rate":26.4},{"seconds":152,"band":"HXI 100−300 keV","rate":26.2},{"seconds":153,"band":"HXI 100−300 keV","rate":20.2},{"seconds":154.1,"band":"HXI 100−300 keV","rate":18},{"seconds":154.9,"band":"HXI 100−300 keV","rate":19.7},{"seconds":156,"band":"HXI 100−300 keV","rate":19.7},{"seconds":156.8,"band":"HXI 100−300 keV","rate":14.6},{"seconds":157.8,"band":"HXI 100−300 keV","rate":17.6},{"seconds":158.7,"band":"HXI 100−300 keV","rate":17.3},{"seconds":160,"band":"HXI 100−300 keV","rate":26.4},{"seconds":161.1,"band":"HXI 100−300 keV","rate":16.5},{"seconds":161.9,"band":"HXI 100−300 keV","rate":18.4},{"seconds":162.9,"band":"HXI 100−300 keV","rate":31.1},{"seconds":163.9,"band":"HXI 100−300 keV","rate":27},{"seconds":164.8,"band":"HXI 100−300 keV","rate":28.3},{"seconds":165.7,"band":"HXI 100−300 keV","rate":24.3},{"seconds":166.8,"band":"HXI 100−300 keV","rate":16.1},{"seconds":167.9,"band":"HXI 100−300 keV","rate":19.2},{"seconds":168.8,"band":"HXI 100−300 keV","rate":17.7},{"seconds":169.8,"band":"HXI 100−300 keV","rate":24.3},{"seconds":170.9,"band":"HXI 100−300 keV","rate":25.9},{"seconds":172.1,"band":"HXI 100−300 keV","rate":21.6},{"seconds":173.1,"band":"HXI 100−300 keV","rate":19.2},{"seconds":174.2,"band":"HXI 100−300 keV","rate":16.8},{"seconds":175,"band":"HXI 100−300 keV","rate":26.4},{"seconds":176.1,"band":"HXI 100−300 keV","rate":23.2},{"seconds":177.1,"band":"HXI 100−300 keV","rate":19.3},{"seconds":177.9,"band":"HXI 100−300 keV","rate":24.3},{"seconds":178.7,"band":"HXI 100−300 keV","rate":14.8},{"seconds":179.7,"band":"HXI 100−300 keV","rate":17.7},{"seconds":180.8,"band":"HXI 100−300 keV","rate":20.6},{"seconds":181.8,"band":"HXI 100−300 keV","rate":18},{"seconds":182.8,"band":"HXI 100−300 keV","rate":21.3},{"seconds":184.1,"band":"HXI 100−300 keV","rate":24.3},{"seconds":184.9,"band":"HXI 100−300 keV","rate":23.7},{"seconds":186,"band":"HXI 100−300 keV","rate":15.2},{"seconds":187.1,"band":"HXI 100−300 keV","rate":21},{"seconds":188.2,"band":"HXI 100−300 keV","rate":20.6},{"seconds":189.2,"band":"HXI 100−300 keV","rate":20.4},{"seconds":190.2,"band":"HXI 100−300 keV","rate":19.2},{"seconds":191.2,"band":"HXI 100−300 keV","rate":19.3},{"seconds":192,"band":"HXI 100−300 keV","rate":24.1},{"seconds":193.1,"band":"HXI 100−300 keV","rate":21},{"seconds":193.9,"band":"HXI 100−300 keV","rate":16.5},{"seconds":195,"band":"HXI 100−300 keV","rate":18},{"seconds":196,"band":"HXI 100−300 keV","rate":17.7},{"seconds":196.9,"band":"HXI 100−300 keV","rate":16.5},{"seconds":198,"band":"HXI 100−300 keV","rate":21},{"seconds":198.8,"band":"HXI 100−300 keV","rate":27},{"seconds":199.9,"band":"HXI 100−300 keV","rate":19.2},{"seconds":200.9,"band":"HXI 100−300 keV","rate":19.2},{"seconds":201.9,"band":"HXI 100−300 keV","rate":23.2},{"seconds":203,"band":"HXI 100−300 keV","rate":17.3},{"seconds":204,"band":"HXI 100−300 keV","rate":18.4},{"seconds":205,"band":"HXI 100−300 keV","rate":21},{"seconds":206,"band":"HXI 100−300 keV","rate":19.3},{"seconds":207,"band":"HXI 100−300 keV","rate":16.5},{"seconds":207.9,"band":"HXI 100−300 keV","rate":21},{"seconds":208.9,"band":"HXI 100−300 keV","rate":16.5},{"seconds":209.9,"band":"HXI 100−300 keV","rate":21},{"seconds":210.9,"band":"HXI 100−300 keV","rate":23.2},{"seconds":212,"band":"HXI 100−300 keV","rate":23.2}
    ],
    "flux": [
      {"seconds":0.2,"source":"30−50 keV right source","flux":0.14},{"seconds":6.3,"source":"30−50 keV right source","flux":0.24},{"seconds":12.5,"source":"30−50 keV right source","flux":0.08},{"seconds":18.6,"source":"30−50 keV right source","flux":0.06},{"seconds":24.3,"source":"30−50 keV right source","flux":0.0},{"seconds":30.7,"source":"30−50 keV right source","flux":0.28},{"seconds":36.7,"source":"30−50 keV right source","flux":0.11},{"seconds":42.7,"source":"30−50 keV right source","flux":0.11},{"seconds":47.7,"source":"30−50 keV right source","flux":0.31},{"seconds":51.6,"source":"30−50 keV right source","flux":0.73},{"seconds":55.5,"source":"30−50 keV right source","flux":1.0},{"seconds":59.8,"source":"30−50 keV right source","flux":0.99},{"seconds":63.7,"source":"30−50 keV right source","flux":0.67},{"seconds":67.6,"source":"30−50 keV right source","flux":1.49},{"seconds":71.7,"source":"30−50 keV right source","flux":2.11},{"seconds":75.8,"source":"30−50 keV right source","flux":2.28},{"seconds":79.7,"source":"30−50 keV right source","flux":1.89},{"seconds":83.6,"source":"30−50 keV right source","flux":1.45},{"seconds":87.6,"source":"30−50 keV right source","flux":0.92},{"seconds":91.8,"source":"30−50 keV right source","flux":0.87},{"seconds":95.7,"source":"30−50 keV right source","flux":1.43},{"seconds":99.7,"source":"30−50 keV right source","flux":1.19},{"seconds":103.8,"source":"30−50 keV right source","flux":0.9},{"seconds":107.8,"source":"30−50 keV right source","flux":0.94},{"seconds":111.6,"source":"30−50 keV right source","flux":0.62},{"seconds":115.7,"source":"30−50 keV right source","flux":0.49},{"seconds":120,"source":"30−50 keV right source","flux":0.48},{"seconds":123.9,"source":"30−50 keV right source","flux":0.7},{"seconds":127.6,"source":"30−50 keV right source","flux":0.6},{"seconds":131.9,"source":"30−50 keV right source","flux":0.62},{"seconds":135.8,"source":"30−50 keV right source","flux":0.37},{"seconds":139.8,"source":"30−50 keV right source","flux":0.2},{"seconds":143.6,"source":"30−50 keV right source","flux":0.28},{"seconds":148.7,"source":"30−50 keV right source","flux":0.12},{"seconds":154.9,"source":"30−50 keV right source","flux":0.14},{"seconds":160.6,"source":"30−50 keV right source","flux":0.0},{"seconds":167,"source":"30−50 keV right source","flux":0.0},{"seconds":173,"source":"30−50 keV right source","flux":0.0},{"seconds":179.9,"source":"30−50 keV right source","flux":0.0},{"seconds":187.9,"source":"30−50 keV right source","flux":0.0},{"seconds":196,"source":"30−50 keV right source","flux":0.0},{"seconds":204,"source":"30−50 keV right source","flux":0.0},{"seconds":212,"source":"30−50 keV right source","flux":0.0},
      {"seconds":0.2,"source":"30−50 keV left source","flux":0.0},{"seconds":6.3,"source":"30−50 keV left source","flux":0.0},{"seconds":12.5,"source":"30−50 keV left source","flux":0.0},{"seconds":18.6,"source":"30−50 keV left source","flux":0.01},{"seconds":24.3,"source":"30−50 keV left source","flux":0.0},{"seconds":30.7,"source":"30−50 keV left source","flux":0.0},{"seconds":36.7,"source":"30−50 keV left source","flux":0.01},{"seconds":42.7,"source":"30−50 keV left source","flux":0.03},{"seconds":47.7,"source":"30−50 keV left source","flux":0.11},{"seconds":51.6,"source":"30−50 keV left source","flux":0.09},{"seconds":55.5,"source":"30−50 keV left source","flux":0.41},{"seconds":59.8,"source":"30−50 keV left source","flux":0.42},{"seconds":63.7,"source":"30−50 keV left source","flux":0.14},{"seconds":67.6,"source":"30−50 keV left source","flux":0.53},{"seconds":71.7,"source":"30−50 keV left source","flux":1.17},{"seconds":75.8,"source":"30−50 keV left source","flux":1.38},{"seconds":79.7,"source":"30−50 keV left source","flux":1.15},{"seconds":83.6,"source":"30−50 keV left source","flux":0.75},{"seconds":87.6,"source":"30−50 keV left source","flux":0.49},{"seconds":91.8,"source":"30−50 keV left source","flux":0.32},{"seconds":95.7,"source":"30−50 keV left source","flux":0.92},{"seconds":99.7,"source":"30−50 keV left source","flux":0.87},{"seconds":103.8,"source":"30−50 keV left source","flux":0.55},{"seconds":107.8,"source":"30−50 keV left source","flux":0.43},{"seconds":111.6,"source":"30−50 keV left source","flux":0.37},{"seconds":115.7,"source":"30−50 keV left source","flux":0.23},{"seconds":120,"source":"30−50 keV left source","flux":0.16},{"seconds":123.9,"source":"30−50 keV left source","flux":0.44},{"seconds":127.6,"source":"30−50 keV left source","flux":0.38},{"seconds":131.9,"source":"30−50 keV left source","flux":0.46},{"seconds":135.8,"source":"30−50 keV left source","flux":0.29},{"seconds":139.8,"source":"30−50 keV left source","flux":0.32},{"seconds":143.6,"source":"30−50 keV left source","flux":0.17},{"seconds":148.7,"source":"30−50 keV left source","flux":0.06},{"seconds":154.9,"source":"30−50 keV left source","flux":0.0},{"seconds":160.6,"source":"30−50 keV left source","flux":0.0},{"seconds":167,"source":"30−50 keV left source","flux":0.0},{"seconds":173,"source":"30−50 keV left source","flux":0.0},{"seconds":179.9,"source":"30−50 keV left source","flux":0.0},{"seconds":187.9,"source":"30−50 keV left source","flux":0.0},{"seconds":196,"source":"30−50 keV left source","flux":0.0},{"seconds":204,"source":"30−50 keV left source","flux":0.0},{"seconds":212,"source":"30−50 keV left source","flux":0.0}
    ]
  },
  "spacing": 0,
  "bounds": "flush",
  "resolve": {"scale": {"color": "independent"}, "legend": {"color": "independent"}},
  "vconcat": [
    {
      "width": 860,
      "height": 303,
      "layer": [
        {
          "data": {"name": "events"},
          "mark": {"type": "rule", "stroke": "#333", "strokeWidth": 1.1},
          "encoding": {"x": {"field": "seconds", "type": "quantitative", "scale": {"domain": [0, 212], "nice": false, "zero": false}, "axis": null}}
        },
        {
          "data": {"name": "counts"},
          "mark": {"type": "line", "strokeWidth": 2, "clip": true},
          "encoding": {
            "x": {"field": "seconds", "type": "quantitative", "scale": {"domain": [0, 212], "nice": false, "zero": false},
                  "axis": {"orient": "bottom", "values": [32, 92, 152, 212], "labels": false, "tickSize": -6, "title": null}},
            "y": {"field": "rate", "type": "quantitative", "scale": {"type": "log", "domain": [15, 910], "nice": false},
                  "axis": {"orient": "left", "values": [100], "format": "d", "tickSize": -13, "labelPadding": 21, "title": "HXI counts rate", "titlePadding": 17}},
            "color": {"field": "band", "type": "nominal",
                      "scale": {"domain": ["HXI 20−30 keV", "HXI 30−50 keV", "HXI 50−100 keV", "HXI 100−300 keV"], "range": ["#ff1eb4", "#22ee22", "#0a4bff", "#ebaa14"]},
                      "legend": {"orient": "none", "legendX": 0, "legendY": 7.6, "title": null, "symbolSize": 0, "symbolOpacity": 0, "symbolStrokeWidth": 0, "labelOffset": 0, "labelFontSize": 20.7, "rowPadding": 0,
                                 "encoding": {"labels": {"lineHeight": {"value": 20.7}, "fill": {"condition": [
                                   {"test": "datum.value === 'HXI 20−30 keV'", "value": "#ff1eb4"},
                                   {"test": "datum.value === 'HXI 30−50 keV'", "value": "#22ee22"},
                                   {"test": "datum.value === 'HXI 50−100 keV'", "value": "#0a4bff"}], "value": "#ebaa14"}}}}}
          }
        },
        {
          "data": {"name": "events"},
          "mark": {"type": "point", "opacity": 0},
          "encoding": {
            "x": {"field": "seconds", "type": "quantitative", "scale": {"domain": [0, 212], "nice": false, "zero": false},
                  "axis": {"orient": "bottom", "values": [12, 52, 72, 112, 132, 172, 192], "labels": false, "tickSize": -4, "title": null}},
            "y": {"datum": 100, "type": "quantitative", "scale": {"type": "log", "domain": [15, 910], "nice": false},
                  "axis": {"orient": "left", "values": [20, 30, 40, 50, 60, 70, 80, 90, 200, 300, 400, 500, 600, 700, 800, 900], "labels": false, "tickSize": -7, "title": null}}
          }
        },
        {
          "data": {"name": "events"},
          "mark": {"type": "point", "opacity": 0},
          "encoding": {
            "x": {"field": "seconds", "type": "quantitative", "scale": {"domain": [0, 212], "nice": false, "zero": false},
                  "axis": {"orient": "top", "values": [12, 32, 52, 72, 92, 112, 132, 152, 172, 192, 212], "labels": false, "tickSize": -4, "title": null}},
            "y": {"datum": 100, "type": "quantitative", "scale": {"type": "log", "domain": [15, 910], "nice": false},
                  "axis": {"orient": "right", "values": [100], "labels": false, "tickSize": -13, "title": null}}
          }
        },
        {
          "data": {"name": "events"},
          "mark": {"type": "point", "opacity": 0},
          "encoding": {
            "x": {"field": "seconds", "type": "quantitative", "scale": {"domain": [0, 212], "nice": false, "zero": false}, "axis": null},
            "y": {"datum": 100, "type": "quantitative", "scale": {"type": "log", "domain": [15, 910], "nice": false},
                  "axis": {"orient": "right", "values": [20, 30, 40, 50, 60, 70, 80, 90, 200, 300, 400, 500, 600, 700, 800, 900], "labels": false, "tickSize": -7, "title": null}}
          }
        }
      ],
      "resolve": {"scale": {"x": "independent", "y": "independent"}, "axis": {"x": "independent", "y": "independent"}}
    },
    {
      "width": 860,
      "height": 303,
      "layer": [
        {
          "data": {"name": "events"},
          "mark": {"type": "rule", "stroke": "#333", "strokeWidth": 1.1},
          "encoding": {"x": {"field": "seconds", "type": "quantitative", "scale": {"domain": [0, 212], "nice": false, "zero": false}, "axis": null}}
        },
        {
          "data": {"name": "flux"},
          "mark": {"type": "line", "strokeWidth": 1.8, "clip": true,
                   "point": {"shape": "M-1,0L1,0M0,-1L0,1", "size": 120, "filled": false, "strokeWidth": 2.8}},
          "encoding": {
            "x": {"field": "seconds", "type": "quantitative", "scale": {"domain": [0, 212], "nice": false, "zero": false},
                  "axis": {"orient": "bottom", "values": [32, 92, 152, 212], "tickSize": -6, "labelPadding": 19,
                           "labelExpr": "'03:' + format(50 + (datum.value + 28) / 60, '02d')",
                           "title": "Start Time (09−May−23 03:50:28)", "titlePadding": 4}},
            "y": {"field": "flux", "type": "quantitative", "scale": {"domain": [-0.1, 2.6], "nice": false, "zero": false},
                  "axis": {"orient": "left", "values": [0, 0.5, 1, 1.5, 2, 2.5], "format": ".1f", "tickSize": -13, "labelPadding": 21, "title": "HXI image average flux", "titlePadding": 17}},
            "color": {"field": "source", "type": "nominal",
                      "scale": {"domain": ["30−50 keV right source", "30−50 keV left source"], "range": ["#ff0000", "#2414f0"]},
                      "legend": {"orient": "none", "legendX": 547, "legendY": 14.2, "title": null,
                                 "symbolType": "M-1,0L8.4,0M-1,-1L-1,1M8.4,-1L8.4,1", "symbolSize": 100, "symbolStrokeWidth": 1, "symbolFillColor": "transparent",
                                 "labelOffset": 36, "labelFontSize": 23, "rowPadding": 3.3,
                                 "encoding": {"labels": {"fill": {"condition": {"test": "datum.value === '30−50 keV right source'", "value": "#ff0000"}, "value": "#2414f0"}}}}}
          }
        },
        {
          "data": {"name": "events"},
          "mark": {"type": "point", "opacity": 0},
          "encoding": {
            "x": {"field": "seconds", "type": "quantitative", "scale": {"domain": [0, 212], "nice": false, "zero": false},
                  "axis": {"orient": "bottom", "values": [12, 52, 72, 112, 132, 172, 192], "labels": false, "tickSize": -4, "title": null}},
            "y": {"datum": 1, "type": "quantitative", "scale": {"domain": [-0.1, 2.6], "nice": false, "zero": false},
                  "axis": {"orient": "left", "values": [0.1, 0.2, 0.3, 0.4, 0.6, 0.7, 0.8, 0.9, 1.1, 1.2, 1.3, 1.4, 1.6, 1.7, 1.8, 1.9, 2.1, 2.2, 2.3, 2.4], "labels": false, "tickSize": -7, "title": null}}
          }
        },
        {
          "data": {"name": "events"},
          "mark": {"type": "point", "opacity": 0},
          "encoding": {
            "x": {"field": "seconds", "type": "quantitative", "scale": {"domain": [0, 212], "nice": false, "zero": false},
                  "axis": {"orient": "top", "values": [12, 32, 52, 72, 92, 112, 132, 152, 172, 192, 212], "labels": false, "tickSize": -4, "title": null}},
            "y": {"datum": 1, "type": "quantitative", "scale": {"domain": [-0.1, 2.6], "nice": false, "zero": false},
                  "axis": {"orient": "right", "values": [0, 0.5, 1, 1.5, 2, 2.5], "labels": false, "tickSize": -13, "title": null}}
          }
        },
        {
          "data": {"name": "events"},
          "mark": {"type": "point", "opacity": 0},
          "encoding": {
            "x": {"field": "seconds", "type": "quantitative", "scale": {"domain": [0, 212], "nice": false, "zero": false}, "axis": null},
            "y": {"datum": 1, "type": "quantitative", "scale": {"domain": [-0.1, 2.6], "nice": false, "zero": false},
                  "axis": {"orient": "right", "values": [0.1, 0.2, 0.3, 0.4, 0.6, 0.7, 0.8, 0.9, 1.1, 1.2, 1.3, 1.4, 1.6, 1.7, 1.8, 1.9, 2.1, 2.2, 2.3, 2.4], "labels": false, "tickSize": -7, "title": null}}
          }
        }
      ],
      "resolve": {"scale": {"x": "independent", "y": "independent"}, "axis": {"x": "independent", "y": "independent"}}
    }
  ]
}
